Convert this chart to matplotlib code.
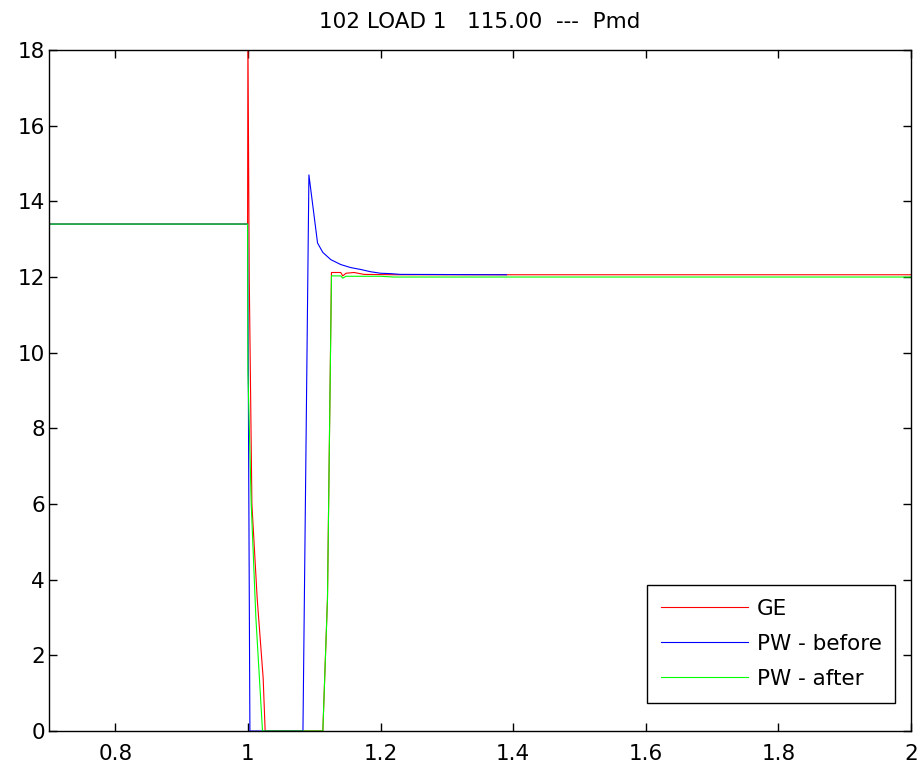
import matplotlib
matplotlib.use('Agg')
import matplotlib.pyplot as plt

plt.rcParams['font.family'] = ['DejaVu Sans']

# time / value points
red_t = [0.7, 0.9995, 1.0, 1.002, 1.006, 1.014, 1.023, 1.026, 1.113, 1.12, 1.126, 1.14, 1.143, 1.148, 1.16, 1.175, 1.22, 2.0]
red_v = [13.4, 13.4, 18.5, 12.0, 6.0, 3.5, 1.4, 0.0, 0.0, 3.5, 12.12, 12.12, 12.03, 12.1, 12.12, 12.07, 12.06, 12.06]

blue_t = [0.7, 0.9995, 1.003, 1.083, 1.092, 1.105, 1.113, 1.125, 1.14, 1.155, 1.17, 1.185, 1.2, 1.215, 1.23, 1.39]
blue_v = [13.4, 13.4, 0.0, 0.0, 14.7, 12.9, 12.65, 12.46, 12.33, 12.25, 12.2, 12.14, 12.1, 12.09, 12.07, 12.06]

green_t = [0.7, 0.9995, 1.0, 1.005, 1.012, 1.022, 1.113, 1.12, 1.126, 1.14, 1.143, 1.148, 1.2, 1.22, 2.0]
green_v = [13.4, 13.4, 9.5, 6.0, 3.0, 0.0, 0.0, 3.5, 12.03, 12.03, 11.97, 12.02, 12.02, 12.0, 12.0]

labels = ['GE', 'PW - before', 'PW - after']
xticks = [0.8, 1.0, 1.2, 1.4, 1.6, 1.8, 2.0]
xticklabels = ['0.8', '1', '1.2', '1.4', '1.6', '1.8', '2']
yticks = list(range(0, 19, 2))

fig = plt.figure(figsize=(9.19, 7.65), dpi=100)
ax = fig.add_axes([0.0533, 0.0444, 0.938, 0.8902])

ax.plot(red_t, red_v, color='#ff0000', lw=0.8, label=labels[0])
ax.plot(blue_t, blue_v, color='#0000ff', lw=0.8, label=labels[1])
ax.plot(green_t, green_v, color='#00ff00', lw=0.8, label=labels[2])

ax.set_xlim(0.7, 2.0)
ax.set_ylim(0, 18)
ax.set_xticks(xticks)
ax.set_xticklabels(xticklabels)
ax.set_yticks(yticks)
ax.tick_params(direction='in', length=6, width=1, labelsize=15.5,
               top=True, right=True, colors='black')
ax.tick_params(axis='x', pad=9)
ax.tick_params(axis='y', pad=3)
for s in ax.spines.values():
    s.set_linewidth(1.0)

ax.set_title('102 LOAD 1   115.00  ---  Pmd', fontsize=15.5, pad=16)

leg = ax.legend(loc='upper right', bbox_to_anchor=(0.982, 0.215), borderaxespad=0,
                fontsize=15.5, handlelength=4.0, handletextpad=0.42, labelspacing=0.7,
                fancybox=False, framealpha=1, edgecolor='black', borderpad=0.65)
leg.get_frame().set_linewidth(1.0)

fig.savefig('out.png', dpi=100)
